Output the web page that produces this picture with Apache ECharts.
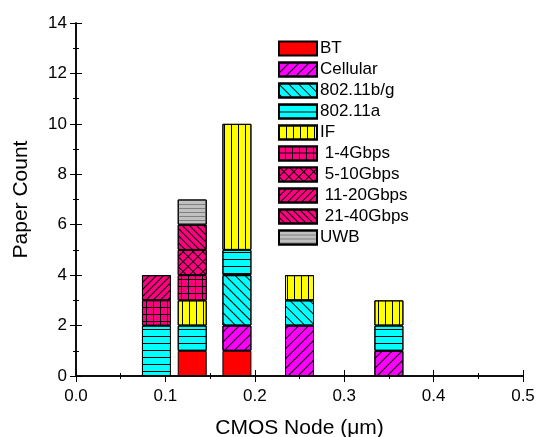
<!DOCTYPE html>
<html>
<head>
<meta charset="utf-8">
<script src="https://cdn.jsdelivr.net/npm/echarts@6/dist/echarts.min.js"></script>
<style>
  html, body { margin: 0; padding: 0; background: #fff; }
</style>
</head>
<body>
<div id="chart" style="width: 538px; height: 437px;"></div>
<script>
// CMOS nodes (um) where the bars sit
const nodes = [0.09, 0.13, 0.18, 0.25, 0.35];

// paper counts per category at each node ('-' = none)
const bt       = ['-', 1, 1, '-', '-'];
const cellular = ['-', '-', 1, 2, 1];
const wifiBG   = ['-', '-', 2, 1, '-'];
const wifiA    = [2, 1, 1, '-', 1];
const ifBand   = ['-', 1, 5, 1, 1];
const g1to4    = [1, 1, '-', '-', '-'];
const g5to10   = ['-', 1, '-', '-', '-'];
const g11to20  = [1, '-', '-', '-', '-'];
const g21to40  = ['-', 1, '-', '-', '-'];
const uwb      = ['-', 1, '-', '-', '-'];

const xTicks = [0, 0.1, 0.2, 0.3, 0.4, 0.5];
const yTicks = [0, 2, 4, 6, 8, 10, 12, 14];

const FONT = 'Liberation Sans, Arial, sans-serif';
const PINK = '#ff0080';

function lines(rot, gap, color) {
  return { symbol: 'rect', symbolSize: 1, color: color || '#000',
           dashArrayX: [1, 0], dashArrayY: [1, gap], rotation: rot };
}
function vlines(gap) {
  return { symbol: 'rect', symbolSize: 1, color: '#000',
           dashArrayX: [1, gap], dashArrayY: [1, 0], rotation: 0 };
}
function grid(rot, cell) {
  return { symbol: 'rect', symbolSize: 1, color: PINK,
           dashArrayX: [cell, 1], dashArrayY: [cell, 1], rotation: rot };
}

const seriesDefs = [
  { name: 'BT', vals: bt, color: '#ff0000', decal: null },
  { name: 'Cellular', vals: cellular, color: '#ff00ff', decal: lines(-Math.PI / 4, 6) },
  { name: '802.11b/g', vals: wifiBG, color: '#00ffff', decal: lines(Math.PI / 4, 6) },
  { name: '802.11a', vals: wifiA, color: '#00ffff', decal: lines(0, 6) },
  { name: 'IF', vals: ifBand, color: '#ffff00', decal: vlines(6) },
  { name: ' 1-4Gbps', vals: g1to4, color: '#000', decal: grid(0, 6) },
  { name: ' 5-10Gbps', vals: g5to10, color: '#000', decal: grid(Math.PI / 4, 6) },
  { name: ' 11-20Gbps', vals: g11to20, color: PINK, decal: lines(-Math.PI / 4, 4) },
  { name: ' 21-40Gbps', vals: g21to40, color: PINK, decal: lines(Math.PI / 4, 4) },
  { name: 'UWB', vals: uwb, color: '#c0c0c0', decal: lines(0, 3, '#808080') }
];

const chart = echarts.init(document.getElementById('chart'), null, { renderer: 'canvas' });

const axisLine = { show: true, lineStyle: { color: '#000', width: 1.5 } };

const option = {
  animation: false,
  backgroundColor: '#fff',
  textStyle: { fontFamily: FONT },
  grid: { left: 76, right: 15, top: 23, bottom: 61, containLabel: false, outerBoundsMode: 'none' },
  legend: {
    orient: 'vertical',
    left: 278,
    top: 40,
    padding: 0,
    itemWidth: 38,
    itemHeight: 14,
    itemGap: 4,
    icon: 'rect',
    textStyle: { color: '#000', fontSize: 17, fontFamily: FONT, padding: [0, 0, 0, -2] },
    data: seriesDefs.map(s => s.name)
  },
  xAxis: [{
    type: 'value', min: 0, max: 0.5, interval: 0.1,
    name: 'CMOS Node (\u03bcm)', nameLocation: 'middle', nameGap: 42,
    nameTextStyle: { color: '#000', fontSize: 21, fontFamily: FONT },
    axisLine: axisLine,
    axisTick: { show: true, inside: true, length: 6, lineStyle: { color: '#000' } },
    minorTick: { show: true, splitNumber: 2, length: 3, lineStyle: { color: '#000' } },
    splitLine: { show: false },
    axisLabel: { color: '#000', fontSize: 17, margin: 12, formatter: v => v.toFixed(1),
                 customValues: xTicks }
  }, {
    type: 'value', min: 0, max: 0.5, interval: 0.1, position: 'top',
    axisLine: axisLine,
    axisTick: { show: true, inside: true, length: 6, lineStyle: { color: '#000' } },
    minorTick: { show: true, splitNumber: 2, length: 3, lineStyle: { color: '#000' } },
    splitLine: { show: false },
    axisLabel: { show: false }
  }],
  yAxis: [{
    type: 'value', min: 0, max: 14, interval: 2,
    name: 'Paper Count', nameLocation: 'middle', nameGap: 44,
    nameTextStyle: { color: '#000', fontSize: 21, fontFamily: FONT },
    axisLine: axisLine,
    axisTick: { show: true, inside: true, length: 6, lineStyle: { color: '#000' } },
    minorTick: { show: true, splitNumber: 2, length: 3, lineStyle: { color: '#000' } },
    splitLine: { show: false },
    axisLabel: { color: '#000', fontSize: 17, margin: 9, customValues: yTicks }
  }, {
    type: 'value', min: 0, max: 14, interval: 2, position: 'right',
    axisLine: axisLine,
    axisTick: { show: true, inside: true, length: 6, lineStyle: { color: '#000' } },
    minorTick: { show: true, splitNumber: 2, length: 3, lineStyle: { color: '#000' } },
    splitLine: { show: false },
    axisLabel: { show: false }
  }],
  series: seriesDefs.map(s => ({
    name: s.name,
    type: 'bar',
    stack: 'papers',
    barWidth: 29,
    xAxisIndex: 0,
    yAxisIndex: 0,
    // count first so the stack runs along y
    encode: { x: 1, y: 0 },
    itemStyle: Object.assign(
      { color: s.color, borderColor: '#000', borderWidth: 1 },
      s.decal ? { decal: s.decal } : {}
    ),
    emphasis: { disabled: true },
    data: nodes.map((x, i) => [s.vals[i], x])
  }))
};

chart.setOption(option);
</script>
</body>
</html>
